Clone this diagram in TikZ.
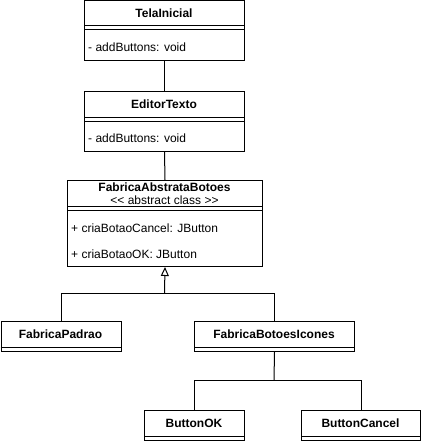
\documentclass[tikz,border=0pt]{standalone}
\usepackage{fontspec}
\setmainfont{Liberation Sans}
\usetikzlibrary{arrows.meta}
\begin{document}
\begin{tikzpicture}[x=1pt,y=-1pt,
  box/.style={draw=black, line width=1pt, fill=white, anchor=north west, inner sep=0pt},
  hdr/.style={font=\fontsize{12}{14}\selectfont\bfseries, inner sep=0pt},
  hdrn/.style={font=\fontsize{12}{14}\selectfont, inner sep=0pt, anchor=base},
  attr/.style={font=\fontsize{12}{14}\selectfont, inner sep=0pt, anchor=west},
  conn/.style={draw=black, line width=1pt},
  inh/.style={conn, -{Triangle[open, width=8pt, length=9pt, line width=1pt]}}
]
\fill[white] (0,0) rectangle (421,441);
\useasboundingbox (0,0) rectangle (421,441);

% TelaInicial
\node[box, minimum width=160pt, minimum height=60pt] (ti) at (84,0.5) {};
\node[hdr] (tit) at (164,13.5) {TelaInicial};
\draw[conn] (84,26) -- (244,26);
\draw[conn] (84,30) -- (244,30);
\node[attr] (tia) at (88,47) {- addButtons: void};

% EditorTexto
\node[box, minimum width=160pt, minimum height=60pt] (et) at (84,91) {};
\node[hdr] (ett) at (164,104) {EditorTexto};
\draw[conn] (84,117) -- (244,117);
\draw[conn] (84,121) -- (244,121);
\node[attr] (eta) at (88,138) {- addButtons: void};

% FabricaAbstrataBotoes
\node[box, minimum width=195pt, minimum height=86pt] (fab) at (67,180) {};
\node[hdrn, font=\fontsize{12}{14}\selectfont\bfseries] (fabt) at (164.5,191.5) {FabricaAbstrataBotoes};
\node[hdrn] (fabs) at (164.5,204.5) {\textless\kern0pt\textless\ abstract class \textgreater\kern0pt\textgreater};
\draw[conn] (67,206) -- (262,206);
\draw[conn] (67,210) -- (262,210);
\node[attr] (faba1) at (71,228) {+ criaBotaoCancel: JButton};
\node[attr] (faba2) at (71,254) {+ criaBotaoOK: JButton};

% FabricaPadrao
\node[box, minimum width=120pt, minimum height=30pt] (fp) at (0.5,321) {};
\node[hdr] (fpt) at (60.5,334) {FabricaPadrao};
\draw[conn] (0.5,347) -- (120.5,347);

% FabricaBotoesIcones
\node[box, minimum width=160pt, minimum height=30pt] (fbi) at (194,321) {};
\node[hdr] (fbit) at (274,334) {FabricaBotoesIcones};
\draw[conn] (194,347) -- (354,347);

% ButtonOK
\node[box, minimum width=100pt, minimum height=30pt] (bok) at (144,410) {};
\node[hdr] (bokt) at (194,423) {ButtonOK};
\draw[conn] (144,436) -- (244,436);

% ButtonCancel
\node[box, minimum width=119pt, minimum height=30pt] (bc) at (301,410) {};
\node[hdr] (bct) at (360.5,423) {ButtonCancel};
\draw[conn] (301,436) -- (420,436);

% connectors
\draw[conn] (ti.south) -- (et.north);
\draw[conn] (et.south) -- (fab.north);
\coordinate (m1) at (164.5,293);
\draw[conn] (fp.north) |- (m1);
\draw[conn] (fbi.north) |- (m1);
\draw[inh] (m1) -- (fab.south);
\coordinate (m2) at (274,380);
\draw[conn] (fbi.south) -- (m2);
\draw[conn] (m2) -| (bok.north);
\draw[conn] (m2) -| (bc.north);
\end{tikzpicture}
\end{document}
